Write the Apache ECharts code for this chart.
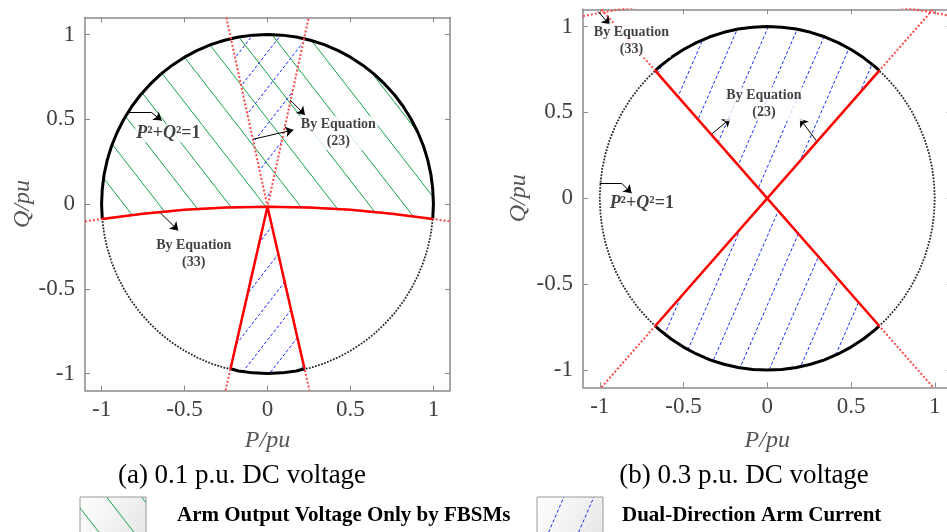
<!DOCTYPE html>
<html>
<head>
<meta charset="utf-8">
<script src="https://cdn.jsdelivr.net/npm/echarts@6/dist/echarts.min.js"></script>
<style>
  html, body { margin: 0; padding: 0; background: #fff; }
  #chart { width: 947px; height: 532px; }
</style>
</head>
<body>
<div id="chart"></div>
<script>
const SERIF = '"Liberation Serif", "Times New Roman", Times, serif';

// ---- data (P, Q in p.u.) ----
const tickValues = [-1, -0.5, 0, 0.5, 1];

// unit circle P^2+Q^2=1, first quadrant every 5 degrees
const quarterArc = [[1, 0], [0.996, 0.087], [0.985, 0.174], [0.966, 0.259], [0.94, 0.342],
  [0.906, 0.423], [0.866, 0.5], [0.819, 0.574], [0.766, 0.643], [0.707, 0.707],
  [0.643, 0.766], [0.574, 0.819], [0.5, 0.866], [0.423, 0.906], [0.342, 0.94],
  [0.259, 0.966], [0.174, 0.985], [0.087, 0.996], [0, 1]];

// (a) 0.1 p.u. DC voltage
const eq33A = [[-1.1, -0.103], [-0.996, -0.088], [-0.75, -0.057], [-0.5, -0.034], [-0.25, -0.021],
  [0, -0.016], [0.25, -0.021], [0.5, -0.034], [0.75, -0.057], [0.996, -0.088], [1.1, -0.103]];
const eq23AUp = [[-0.248, 1.1], [0, -0.016], [0.248, 1.1]];
const eq23ADown = [[-0.253, -1.1], [0, -0.016], [0.253, -1.1]];
const eq23ADownSolid = [[-0.223, -0.972], [0, -0.016], [0.223, -0.972]];
const upCrossA = [[0.22, 0.975], [-0.22, 0.975]];

// (b) 0.3 p.u. DC voltage
const eq23BLine1 = [[-0.99, -1.1], [0.99, 1.1]];
const eq23BLine2 = [[-0.99, 1.1], [0.99, -1.1]];
const crossB = [[0.669, 0.743], [-0.669, 0.743], [-0.669, -0.743], [0.669, -0.743]];
const eq33B = [[-1.1, 1.06], [-1, 1.079], [-0.9, 1.096], [-0.8, 1.11], [-0.5, 1.145], [0, 1.167],
  [0.5, 1.145], [0.8, 1.11], [0.9, 1.096], [1, 1.079], [1.1, 1.06]];

// annotations: [P, Q, kind]
const textsA = [[-0.8, 0.418, 'circle'], [0.427, 0.419, '23'], [-0.445, -0.293, '33']];
const textsB = [[-0.95, -0.029, 'circle'], [-0.02, 0.548, '23'], [-0.811, 0.918, '33']];
const arrowsA = [
  [[-0.839, 0.539], [-0.698, 0.539], [-0.638, 0.492]],
  [[0.136, 0.614], [0.226, 0.525]],
  [[-0.086, 0.382], [0.156, 0.437]],
  [[-0.648, -0.05], [-0.538, -0.156]]
];
const arrowsB = [
  [[-1.0, 0.088], [-0.87, 0.088], [-0.81, 0.029]],
  [[-0.333, 0.373], [-0.22, 0.464]],
  [[0.297, 0.33], [0.194, 0.464]],
  [[-1.01, 1.087], [-0.94, 1.01]]
];

// ---- circle built by mirroring the quarter arc (counter-clockwise from (1,0)) ----
const circle = [
  ...quarterArc,
  ...quarterArc.slice(0, -1).reverse().map(p => [-p[0], p[1]]),
  ...quarterArc.slice(1).map(p => [-p[0], -p[1]]),
  ...quarterArc.slice(1, -1).reverse().map(p => [p[0], -p[1]]),
  [1, 0]
];
const upperHalf = circle.slice(0, 37);

// arcs / regions
const thickUpperA = [eq33A[9], ...upperHalf, eq33A[1]];
const thickLowerA = [eq23ADownSolid[0], ...circle.filter(p => p[1] < -0.972), eq23ADownSolid[2]];
const greenRegionA = [...eq33A.slice(1, 10), ...upperHalf];
const blueUpA = [[0, -0.016], upCrossA[0], ...circle.filter(p => p[1] > 0.975), upCrossA[1]];
const blueDownA = [[0, -0.016], ...thickLowerA];

const thickUpperB = [crossB[0], ...circle.filter(p => p[1] > 0.743), crossB[1]];
const thickLowerB = [crossB[2], ...circle.filter(p => p[1] < -0.743), crossB[3]];
const blueUpB = [[0, 0], ...thickUpperB];
const blueDownB = [[0, 0], ...thickLowerB];

// ---- hatch patterns ----
function hatch(w, h, color, dir, dashed) {
  const c = document.createElement('canvas');
  c.width = w; c.height = h;
  const ctx = c.getContext('2d');
  ctx.strokeStyle = color;
  ctx.lineWidth = 1;
  if (dashed) {
    const L = Math.hypot(w, h);
    const p = L / Math.round(L / 5.2);
    ctx.setLineDash([p * 0.6, p * 0.4]);
  }
  for (const ox of [-w, 0, w]) {
    ctx.beginPath();
    if (dir === '/') { ctx.moveTo(ox, h); ctx.lineTo(ox + w, 0); }
    else { ctx.moveTo(ox, 0); ctx.lineTo(ox + w, h); }
    ctx.stroke();
  }
  return { image: c, repeat: 'repeat' };
}
const greenHatch = hatch(35, 45, '#12a548', '\\', false);
const blueHatchA = hatch(28, 36, '#1a2cff', '/', true);
const blueHatchB = hatch(30, 69, '#1a2cff', '/', true);

// ---- axes ----
function makeAxes(gi, dim, name, nameGap) {
  const common = {
    type: 'value', gridIndex: gi, min: -1.1, max: 1.1,
    splitLine: { show: false },
    axisLine: { show: true, onZero: false, lineStyle: { color: '#8a8a8a', width: 1.5 } },
    axisTick: { show: true, inside: true, length: 5, customValues: tickValues,
      lineStyle: { color: '#8a8a8a', width: 1 } }
  };
  const main = Object.assign({}, common, {
    position: dim === 'x' ? 'bottom' : 'left',
    axisLabel: { show: true, customValues: tickValues, formatter: v => String(v),
      fontFamily: SERIF, fontSize: 23, color: '#404040', margin: dim === 'x' ? 8 : 10 },
    name: name, nameLocation: 'middle', nameGap: nameGap,
    nameTextStyle: { fontFamily: SERIF, fontStyle: 'italic', fontSize: 24, color: '#555' }
  });
  const mirror = Object.assign({}, common, {
    position: dim === 'x' ? 'top' : 'right', axisLabel: { show: false }
  });
  return [main, mirror];
}

// ---- series helpers ----
function line(gi, pts, color, width, type, z) {
  return {
    type: 'line', xAxisIndex: gi * 2, yAxisIndex: gi * 2, data: pts,
    symbol: 'none', silent: true, z: z,
    lineStyle: { color: color, width: width, type: type }
  };
}
function region(gi, pts, fill) {
  return {
    type: 'custom', xAxisIndex: gi * 2, yAxisIndex: gi * 2, data: [[0, 0]], silent: true, z: 1,
    renderItem: (params, api) => ({
      type: 'polygon',
      shape: { points: pts.map(p => api.coord(p)) },
      style: { fill: fill, stroke: null }
    })
  };
}
const richText = {
  b: { fontFamily: SERIF, fontWeight: 'bold', fontSize: 14, lineHeight: 17, color: '#111', align: 'center' },
  i: { fontFamily: SERIF, fontWeight: 'bold', fontStyle: 'italic', fontSize: 18, color: '#111' },
  n: { fontFamily: SERIF, fontWeight: 'bold', fontSize: 18, color: '#111' }
};
function labels(gi, texts, arrows) {
  const segs = [];
  arrows.forEach(a => {
    for (let k = 0; k < a.length - 1; k++) {
      const last = k === a.length - 2;
      segs.push([{ coord: a[k], symbol: 'none' }, { coord: a[k + 1], symbol: last ? 'arrow' : 'none' }]);
    }
  });
  return {
    type: 'scatter', xAxisIndex: gi * 2, yAxisIndex: gi * 2, silent: true, z: 10,
    symbolSize: 1, itemStyle: { color: 'rgba(0,0,0,0)' },
    data: texts.map(t => ({
      value: [t[0], t[1]],
      label: t[2] === 'circle'
        ? { show: true, position: 'right', distance: 0, backgroundColor: '#fff', padding: [0, 1],
            formatter: '{i|P}{n|²+}{i|Q}{n|²=1}', rich: richText }
        : { show: true, position: 'inside', backgroundColor: '#fff', padding: [0, 2],
            formatter: '{b|By Equation}\n{b|(' + t[2] + ')}', rich: richText }
    })),
    markLine: {
      silent: true, animation: false, symbolSize: 8, precision: 3,
      label: { show: false },
      lineStyle: { color: '#000', width: 1, type: 'solid' },
      data: segs
    }
  };
}

const RED = '#ff0000';
const REDDOT = '#ff4848';
const DOTCIRCLE = [1.8, 1.4];
const series = [
  // (a)
  region(0, greenRegionA, greenHatch),
  region(0, blueUpA, blueHatchA),
  region(0, blueDownA, blueHatchA),
  line(0, circle, '#2a2a2a', 1.8, DOTCIRCLE, 2),
  line(0, thickUpperA, '#000', 3, 'solid', 3),
  line(0, thickLowerA, '#000', 3, 'solid', 3),
  line(0, eq33A, REDDOT, 2, [2, 2], 4),
  line(0, eq33A.slice(1, 10), RED, 2.5, 'solid', 5),
  line(0, eq23AUp, REDDOT, 2, [2, 2], 4),
  line(0, eq23ADown, REDDOT, 2, [2, 2], 4),
  line(0, eq23ADownSolid, RED, 2.5, 'solid', 5),
  labels(0, textsA, arrowsA),
  // (b)
  region(1, blueUpB, blueHatchB),
  region(1, blueDownB, blueHatchB),
  line(1, circle, '#2a2a2a', 1.8, DOTCIRCLE, 2),
  line(1, thickUpperB, '#000', 3, 'solid', 3),
  line(1, thickLowerB, '#000', 3, 'solid', 3),
  line(1, eq33B, REDDOT, 2, [2, 2], 4),
  line(1, eq23BLine1, REDDOT, 2, [2, 2], 4),
  line(1, eq23BLine2, REDDOT, 2, [2, 2], 4),
  line(1, [crossB[2], crossB[0]], RED, 2.5, 'solid', 5),
  line(1, [crossB[1], crossB[3]], RED, 2.5, 'solid', 5),
  labels(1, textsB, arrowsB)
];

function swatch(x, pattern) {
  return [
    { type: 'rect', shape: { x: x, y: 497, width: 66, height: 40 },
      style: { fill: new echarts.graphic.LinearGradient(0, 0, 1, 1,
        [{ offset: 0, color: '#ffffff' }, { offset: 1, color: '#e6e6e6' }]), stroke: null } },
    { type: 'rect', shape: { x: x, y: 497, width: 66, height: 40 },
      style: { fill: pattern, stroke: '#9a9a9a', lineWidth: 1 } }
  ];
}
function caption(x, y, text, font) {
  return { type: 'text', x: x, y: y,
    style: { text: text, font: font, fill: '#000', align: 'center', verticalAlign: 'middle',
      textAlign: 'center', textVerticalAlign: 'middle' } };
}
function legendText(x, y, text) {
  return { type: 'text', x: x, y: y,
    style: { text: text, font: 'bold 21px ' + SERIF, fill: '#000', align: 'left', verticalAlign: 'middle',
      textAlign: 'left', textVerticalAlign: 'middle' } };
}

const chart = echarts.init(document.getElementById('chart'), null, { renderer: 'canvas' });
chart.setOption({
  animation: false,
  backgroundColor: '#fff',
  grid: [
    { left: 85, top: 17.5, width: 365, height: 373, outerBoundsMode: 'none' },
    { left: 583, top: 9.3, width: 368.5, height: 378, outerBoundsMode: 'none' }
  ],
  xAxis: [...makeAxes(0, 'x', 'P/pu', 38), ...makeAxes(1, 'x', 'P/pu', 41)],
  yAxis: [...makeAxes(0, 'y', 'Q/pu', 50), ...makeAxes(1, 'y', 'Q/pu', 52)],
  series: series,
  graphic: [
    caption(242, 476, '(a) 0.1 p.u. DC voltage', '27px ' + SERIF),
    caption(744, 476, '(b) 0.3 p.u. DC voltage', '27px ' + SERIF),
    ...swatch(80, greenHatch),
    ...swatch(537, blueHatchB),
    legendText(177, 516, 'Arm Output Voltage Only by FBSMs'),
    legendText(622, 516, 'Dual-Direction Arm Current')
  ]
});
</script>
</body>
</html>
